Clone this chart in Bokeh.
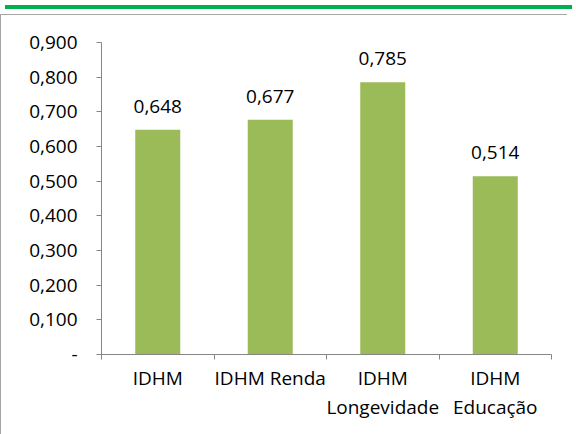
from bokeh.plotting import figure
from bokeh.models import FixedTicker, CustomJSTickFormatter, ColumnDataSource, Div, Range1d, LabelSet
from bokeh.layouts import column
from bokeh.core.properties import value
from bokeh.embed import file_html
from bokeh.resources import INLINE

# ---- data ----
categories = ["IDHM", "IDHM Renda", "IDHM\nLongevidade", "IDHM\nEducação"]
values = [0.648, 0.677, 0.785, 0.514]
value_labels = ["0,648", "0,677", "0,785", "0,514"]
y_ticks = [0.0, 0.1, 0.2, 0.3, 0.4, 0.5, 0.6, 0.7, 0.8, 0.9]
y_tick_labels = ["-", "0,100", "0,200", "0,300", "0,400", "0,500", "0,600", "0,700", "0,800", "0,900"]

FONT = "Open Sans"
FS = "19px"
BAR = "#9BBB59"
AXIS = "#868686"

n = len(categories)
xs = [i + 0.5 for i in range(n)]
src = ColumnDataSource(dict(x=xs, top=values, label=value_labels))

p = figure(width=567, height=421, output_backend="svg", toolbar_location=None,
           x_range=Range1d(0, n), y_range=Range1d(0, 0.9),
           min_border_left=100, min_border_right=17, min_border_top=27, min_border_bottom=82,
           styles={"border-left": "1px solid #a6a6a6", "border-top": "1px solid #a6a6a6",
                   "border-bottom": "1px solid #a6a6a6"})
p.outline_line_color = None
p.grid.visible = False
p.background_fill_color = "white"
p.border_fill_color = "white"

p.vbar(x="x", top="top", bottom=0, width=0.4, source=src, fill_color=BAR, line_color=None)
labels = LabelSet(x="x", y="top", text="label", source=src, text_align="center",
                  text_baseline="alphabetic", y_offset=17, text_font=value(FONT),
                  text_font_size=value(FS), text_color=value("black"))
p.add_layout(labels)

# y axis
ya = p.yaxis[0]
ya.ticker = FixedTicker(ticks=y_ticks, minor_ticks=[])
ya.formatter = CustomJSTickFormatter(args=dict(t=y_ticks, l=y_tick_labels), code="""
let best = 0; for (let i = 0; i < t.length; i++) { if (Math.abs(t[i]-tick) < Math.abs(t[best]-tick)) best = i; }
return l[best];""")
ya.axis_line_color = AXIS
ya.major_tick_line_color = AXIS
ya.major_tick_out = 5
ya.major_tick_in = 0
ya.minor_tick_line_color = None
ya.major_label_standoff = 19
ya.major_label_text_font = FONT
ya.major_label_text_font_size = FS
ya.major_label_text_color = "black"

# x axis
xa = p.xaxis[0]
xa.ticker = FixedTicker(ticks=xs, minor_ticks=list(range(n + 1)))
xa.formatter = CustomJSTickFormatter(args=dict(l=categories), code="return l[Math.floor(tick)];")
xa.axis_line_color = AXIS
xa.major_tick_line_color = None
xa.major_tick_out = 0
xa.major_tick_in = 0
xa.minor_tick_line_color = AXIS
xa.minor_tick_out = 5
xa.minor_tick_in = 0
xa.major_label_standoff = 5
xa.major_label_text_font = FONT
xa.major_label_text_font_size = FS
xa.major_label_text_color = "black"
xa.major_label_text_line_height = 1.15

band = Div(width=567, height=4, styles={"background-color": "#00B050"})
layout = column(band, p, spacing=0)

open("out.html", "w").write(file_html(layout, INLINE))
